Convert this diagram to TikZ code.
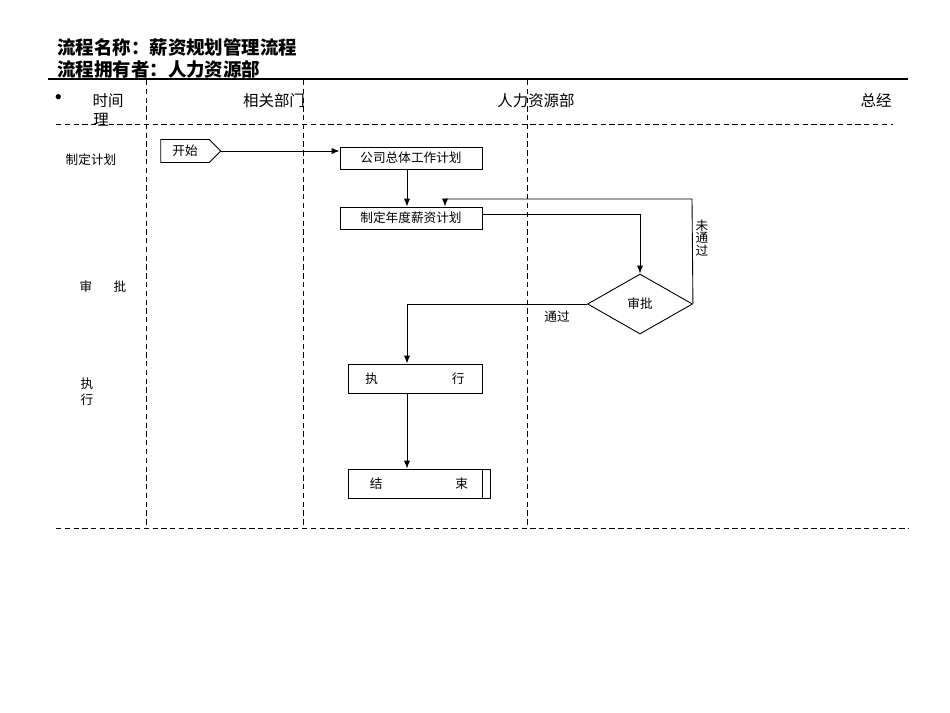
\documentclass[tikz,border=0pt]{standalone}
\usepackage{fontspec}
\setmainfont{Noto Sans CJK SC}
\usetikzlibrary{arrows.meta,shapes.geometric,shapes.symbols}

\begin{document}
\begin{tikzpicture}[x=0.02cm,y=-0.02cm,
		lane/.style={dash pattern=on 3pt off 2pt, line width=0.5pt},
		box/.style={draw, line width=0.5pt, inner sep=0pt, font=\fontsize{7.2}{8}\selectfont},
		flow/.style={-{Latex[length=4.5pt,width=3.5pt]}, line width=0.5pt},
		head/.style={inner sep=0pt, font=\fontsize{8.8}{10}\selectfont},
		lbl/.style={inner sep=0pt, font=\fontsize{7.2}{9}\selectfont}]
			\def\px{0.02cm}
			\useasboundingbox (0,0) rectangle (950,713);
			% title
			\node[anchor=west, inner sep=0pt, font=\fontsize{10.5}{12}\selectfont\bfseries] (title) at (57,47) {流程名称：薪资规划管理流程};
			\node[anchor=west, inner sep=0pt, font=\fontsize{10.5}{12}\selectfont\bfseries] (owner) at (57,69) {流程拥有者：人力资源部};
			\draw[line width=1.2pt] (48,79) -- (908,79);
			% lanes
			\foreach \x in {146,303,527} \draw[lane] (\x,80) -- (\x,528);
			\draw[lane] (56,124) -- (893,124);
			\draw[lane] (56,528) -- (909,528);
			\node[head, font=\fontsize{14}{14}\selectfont] (dot) at (59,101) {•};
			\node[head] (time) at (108,101) {时间};
			\node[head] (time2) at (101,120) {理};
			\node[head] (dept) at (274,101) {相关部门};
			\node[head] (hr) at (536,101) {人力资源部};
			\node[head] (gm) at (876,101) {总经};
			\node[lbl] (rowplan) at (91,160) {制定计划};
			\node[lbl] (rowaudit) at (103,287) {审\hspace{0.43cm}批};
			\node[lbl, align=center] (rowexec) at (87,392) {执\\行};
			% flow
			\node[box, signal, signal to=east, signal pointer angle=90, minimum width=60*\px, minimum height=23*\px] (start) at (185,151) {开始};
			\node[box, minimum width=142*\px, minimum height=22*\px] (plan) at (411,158) {公司总体工作计划};
			\node[box, minimum width=142*\px, minimum height=22*\px] (salary) at (411,218) {制定年度薪资计划};
			\node[box, diamond, minimum width=105*\px, minimum height=60*\px] (audit) at (640,304) {审批};
			\node[box, minimum width=134*\px, minimum height=29*\px] (exec) at (415,378.5) {执\hspace{1.48cm}行};
			\node[box, minimum width=142*\px, minimum height=29*\px] (end) at (419,483.5) {结\hspace{1.46cm}束};
			\draw[line width=0.5pt] ([xshift=-8*\px]end.north east) -- ([xshift=-8*\px]end.south east);
			\coordinate (axis) at (407,0);
			\coordinate (tap) at (0,214);
			\coordinate (ret) at (692,199);
			\draw[flow] (start.east) -- (start.east -| plan.west);
			\draw[flow] (plan.south -| axis) -- (salary.north -| axis);
			\draw[flow] (salary.east |- tap) -| (audit.north);
			\draw[flow] (audit.east) -- (ret) -| ([xshift=34*\px]salary.north);
			\draw[flow] (audit.west) -| (exec.north -| axis);
			\draw[flow] (exec.south -| axis) -- (end.north -| axis);
			\node[lbl, align=center, font=\fontsize{7.2}{6.5}\selectfont] (fail) at (702,238) {未\\通\\过};
			\node[lbl] (pass) at (557,317) {通过};
		\end{tikzpicture}
\end{document}
